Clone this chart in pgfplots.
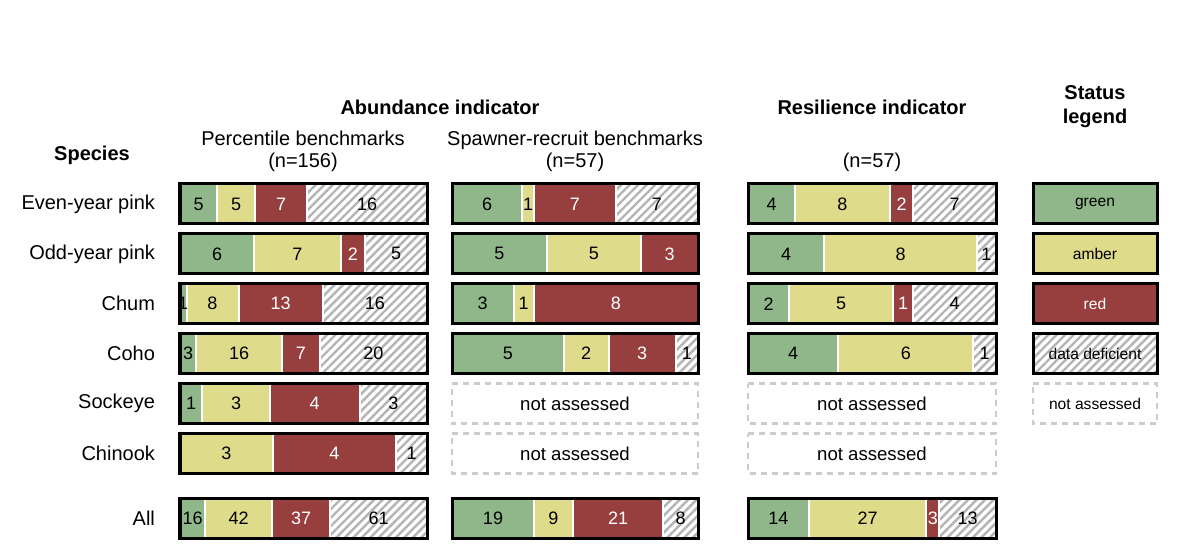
\documentclass[border=0pt]{standalone}
\usepackage{fontspec}
\setmainfont{Liberation Sans}
\usepackage{pgfplots}
\pgfplotsset{compat=1.18}
\usepackage{pgfplotstable}
\usetikzlibrary{patterns.meta}

\definecolor{sgreen}{HTML}{8FB789}
\definecolor{samber}{HTML}{DEDB8B}
\definecolor{sred}{HTML}{973F3F}
\definecolor{hatch}{HTML}{B4B4B4}
\definecolor{naedge}{HTML}{CCCCCC}

% counts per status: green, amber, red, data deficient, total
\pgfplotstableread{
y g a r d t
0 5 5 7 16 33
1 6 7 2 5 20
2 1 8 13 16 38
3 3 16 7 20 46
4 1 3 4 3 11
5 0 3 4 1 8
6.3 16 42 37 61 156
}\pct
\pgfplotstableread{
y g a r d t
0 6 1 7 7 21
1 5 5 3 0 13
2 3 1 8 0 12
3 5 2 3 1 11
6.3 19 9 21 8 57
}\srb
\pgfplotstableread{
y g a r d t
0 4 8 2 7 21
1 4 8 0 1 13
2 2 5 1 4 12
3 4 6 0 1 11
6.3 14 27 3 13 57
}\res

\pgfplotsset{
  pane/.style={scale only axis, width=#1, height=182.2pt, xmin=0, xmax=100,
    ymin=-0.5, ymax=6.8, y dir=reverse, clip=false, anchor=north west},
  seg/.style={fill=#1, draw=white, line width=1pt},
  dd/.style={fill=white, draw=white, line width=1pt,
    postaction={pattern color=hatch, pattern={Lines[angle=45,distance=3pt,line width=1.2pt]}}},
  lab/.style={draw=none, mark=none, nodes near coords, point meta=explicit,
    /pgf/number format/assume math mode=true,
    every node near coord/.append style={anchor=center, font=\fontsize{9}{10}\selectfont, text=#1}},
  outline/.style={xbar, bar shift=0pt, bar width=0.8, fill=none, draw=black, line width=1.5pt},
  na/.style={xbar, bar shift=0pt, bar width=0.8, fill=none, draw=naedge, line width=1.2pt,
    dash pattern=on 3pt off 2.5pt},
}

% one panel: position, width, table, extra axis options
\newcommand\panel[4]{
\begin{axis}[pane=#2, at={#1}, hide axis, xbar stacked, bar width=0.8]
\addplot[seg=sgreen] table[x expr=\thisrow{g}/\thisrow{t}*100, y=y]{#3};
\addplot[seg=samber] table[x expr=\thisrow{a}/\thisrow{t}*100, y=y]{#3};
\addplot[seg=sred] table[x expr=\thisrow{r}/\thisrow{t}*100, y=y]{#3};
\addplot[dd] table[x expr=\thisrow{d}/\thisrow{t}*100, y=y]{#3};
\end{axis}
\begin{axis}[pane=#2, at={#1}, #4]
\addplot[outline] table[x expr=100, y=y]{#3};
\addplot[lab=black] table[x expr={\thisrow{g}==0 ? nan : \thisrow{g}/2/\thisrow{t}*100}, y=y, meta=g]{#3};
\addplot[lab=black] table[x expr={\thisrow{a}==0 ? nan : (\thisrow{g}+\thisrow{a}/2)/\thisrow{t}*100}, y=y, meta=a]{#3};
\addplot[lab=white] table[x expr={\thisrow{r}==0 ? nan : (\thisrow{g}+\thisrow{a}+\thisrow{r}/2)/\thisrow{t}*100}, y=y, meta=r]{#3};
\addplot[lab=black] table[x expr={\thisrow{d}==0 ? nan : (\thisrow{g}+\thisrow{a}+\thisrow{r}+\thisrow{d}/2)/\thisrow{t}*100}, y=y, meta=d]{#3};
\end{axis}
}

\newcommand\notassessed[2]{
\begin{axis}[pane=#2, at={#1}, hide axis]
\addplot[na] coordinates {(100,4) (100,5)};
\addplot[draw=none, mark=none, nodes near coords, point meta=explicit symbolic,
  every node near coord/.append style={anchor=center, font=\fontsize{9.3}{10}\selectfont}]
  coordinates {(50,4) [not assessed] (50,5) [not assessed]};
\end{axis}
}

\begin{document}
\begin{tikzpicture}
\path[use as bounding box] (0,0) rectangle (600pt,280pt);

\panel{(90pt,190.5pt)}{123.5pt}{\pct}{axis line style={draw=none}, xtick=\empty,
  ytick={0,1,2,3,4,5,6.3}, major tick length=0pt,
  yticklabels={Even-year pink,Odd-year pink,Chum,Coho,Sockeye,Chinook,All},
  yticklabel style={font=\fontsize{10}{12}\selectfont, xshift=-9pt}}
\panel{(226pt,190.5pt)}{123pt}{\srb}{hide axis}
\notassessed{(226pt,190.5pt)}{123pt}
\panel{(374pt,190.5pt)}{124pt}{\res}{hide axis}
\notassessed{(374pt,190.5pt)}{124pt}

% status legend
\begin{axis}[pane=62pt, at={(516.5pt,190.5pt)}, hide axis]
\addplot[xbar, bar shift=0pt, bar width=0.8, seg=sgreen] coordinates {(100,0)};
\addplot[xbar, bar shift=0pt, bar width=0.8, seg=samber] coordinates {(100,1)};
\addplot[xbar, bar shift=0pt, bar width=0.8, seg=sred] coordinates {(100,2)};
\addplot[xbar, bar shift=0pt, bar width=0.8, dd] coordinates {(100,3)};
\addplot[outline] coordinates {(100,0) (100,1) (100,2) (100,3)};
\addplot[na] coordinates {(100,4)};
\addplot[draw=none, mark=none, nodes near coords, point meta=explicit symbolic,
  every node near coord/.append style={anchor=center, font=\fontsize{7.8}{9}\selectfont}]
  coordinates {(50,0) [green] (50,1) [amber] (50,3) [data deficient] (50,4) [not assessed]};
\addplot[draw=none, mark=none, nodes near coords, point meta=explicit symbolic,
  every node near coord/.append style={anchor=center, text=white, font=\fontsize{7.8}{9}\selectfont}]
  coordinates {(50,2) [red]};
\end{axis}

\node[font=\bfseries\fontsize{10}{12}\selectfont] at (220pt,226.5pt) {Abundance indicator};
\node[font=\bfseries\fontsize{10}{12}\selectfont] at (436pt,226.5pt) {Resilience indicator};
\node[font=\bfseries\fontsize{10}{12}\selectfont, align=center] at (547.5pt,226.5pt) {Status\\legend};
\node[font=\fontsize{10}{11}\selectfont, align=center] at (151.5pt,204.5pt) {Percentile benchmarks\\(n=156)};
\node[font=\fontsize{10}{11}\selectfont, align=center] at (287.5pt,204.5pt) {Spawner-recruit benchmarks\\(n=57)};
\node[font=\fontsize{10}{11}\selectfont] at (436pt,199pt) {(n=57)};
\node[font=\bfseries\fontsize{10}{12}\selectfont] at (46pt,202.5pt) {Species};
\end{tikzpicture}
\end{document}
